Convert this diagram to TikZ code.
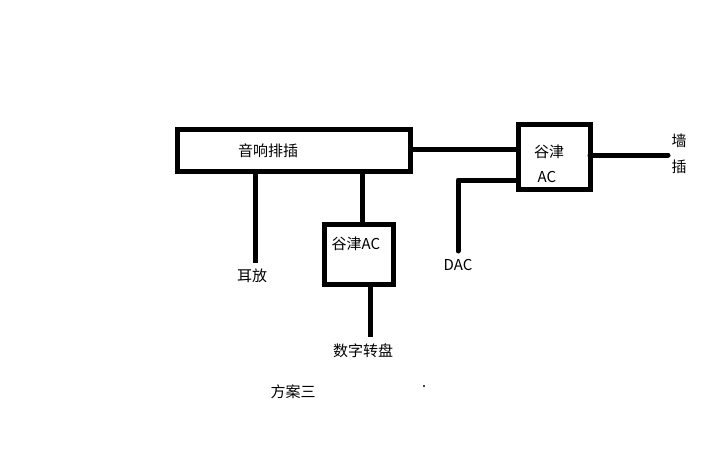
\documentclass[tikz,border=0pt]{standalone}
\usepackage{fontspec}
\setmainfont{Noto Sans CJK SC}
\begin{document}
\begin{tikzpicture}[x=1pt,y=-1pt,
  box/.style={draw,line width=5pt},
  wire/.style={line width=5pt},
  lbl/.style={font=\fontsize{15}{17}\selectfont,inner sep=0pt}]
\useasboundingbox (0,0) rectangle (707,456);
\draw[box] (177,129) rectangle (410,171);
\coordinate (mainR) at (410,149);
\node[lbl] (t1) at (268,151) {音响排插};
\draw[box] (518,124) rectangle (590,189);
\node[lbl] (t2) at (549,152) {谷津};
\node[lbl] (t3) at (547,177) {AC};
\coordinate (rL) at (518,149);
\coordinate (rL2) at (518,180);
\coordinate (rR) at (590,155);
\coordinate (wall) at (668,155);
\draw[wire] (mainR) -- (rL);
\draw[wire,line cap=round] (rR) -- (wall);
\node[lbl] (w1) at (679,141) {墙};
\node[lbl] (w2) at (679,167) {插};
\coordinate (dc) at (458,180);
\coordinate (dend) at (458,251);
\draw[wire,line cap=round,line join=round] (rL2) -- (dc) -- (dend);
\node[lbl] (dac) at (458,265) {DAC};
\coordinate (e1) at (255,171);
\coordinate (e2) at (255,263);
\draw[wire] (e1) -- (e2);
\node[lbl] (er) at (252,276) {耳放};
\draw[box] (324,224) rectangle (393,284);
\node[lbl] (t4) at (356,244) {谷津AC};
\coordinate (m1) at (362,171);
\coordinate (m2) at (362,224);
\draw[wire] (m1) -- (m2);
\coordinate (b1) at (370,284);
\coordinate (b2) at (370,337);
\draw[wire] (b1) -- (b2);
\node[lbl] (sz) at (363,351) {数字转盘};
\node[lbl] (fa) at (293,392) {方案三};
\fill (424,386) circle (1.2);
\end{tikzpicture}
\end{document}
